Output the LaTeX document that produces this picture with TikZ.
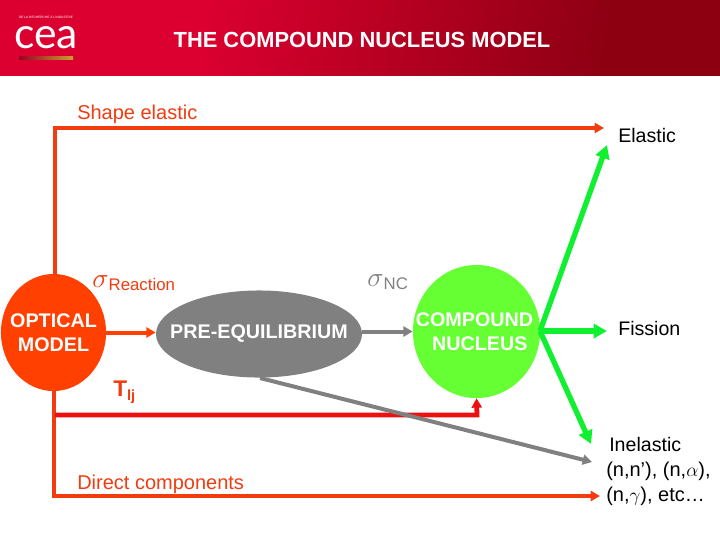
\documentclass[tikz,border=0pt]{standalone}
\usepackage{fontspec}
\setmainfont{Liberation Sans}
\newfontfamily\logofont{Lato}
\usepackage{amsmath,amssymb}
\usepackage{xcolor}
\usetikzlibrary{
  positioning,
  arrows.meta,
  shapes.geometric
}
\definecolor{headred}{HTML}{DC0030}
\definecolor{headdark}{HTML}{8C0012}
\definecolor{orangered}{HTML}{F03C10}
\definecolor{optical}{HTML}{FF4000}
\definecolor{tred}{HTML}{EE1010}
\definecolor{greyline}{HTML}{808080}
\definecolor{green}{HTML}{10F030}
\definecolor{compound}{HTML}{66FF33}
\definecolor{goldbar}{HTML}{C8A030}
\pgfdeclarehorizontalshading{headshade}{100bp}{color(0bp)=(headred); color(37bp)=(headred); color(70bp)=(headdark); color(100bp)=(headdark)}
\newcommand{\nar}[1]{\makebox[0pt]{#1}}
\begin{document}
\begin{tikzpicture}[
  x=0.75pt, y=-0.75pt,
  blob/.style={ellipse, inner sep=0pt, align=center, text=white, font=\fontsize{14.8}{18}\selectfont\bfseries},
  lab/.style={inner sep=0pt, font=\fontsize{14.7}{18}\selectfont},
  redlab/.style={lab, text=orangered, font=\fontsize{15}{18}\selectfont},
  arr/.style={-{Triangle[length=7pt, width=7.5pt]}, line width=3pt},
  grn/.style={-{Triangle[length=10pt, width=10.5pt]}, line width=4pt, green}
]
  \useasboundingbox (0,0) rectangle (720,540);
  \shade[shading=headshade, shading angle=-10] (0,0) rectangle (720,75);

  % logo
  \node[inner sep=0pt, text=white, font=\logofont\fontsize{32}{32}\selectfont, anchor=base] (logo) at (46,48) {cea};
  \node[inner sep=0pt, text=white, font=\fontsize{2.4}{3}\selectfont] (motto) at (46,17) {DE LA RECHERCHE À L'INDUSTRIE};
  \shade[left color=headred!70!black, right color=goldbar] (19,56) rectangle (73,59);

  \node[inner sep=0pt, text=white, font=\fontsize{16.4}{18}\selectfont\bfseries] (title) at (362,40) {THE COMPOUND NUCLEUS MODEL};

  \node[blob, fill=optical, minimum width=78.8pt, minimum height=87.8pt] (opt) at (53.5,332.5) {\nar{OPTICAL}\\\nar{MODEL}};
  \node[blob, fill=greyline, minimum width=154.5pt, minimum height=65.3pt] (pre) at (259,334) {\raisebox{1.5pt}{\nar{PRE-EQUILIBRIUM}}};
  \node[blob, fill=compound, minimum width=95.3pt, minimum height=99.8pt] (cn) at (476.5,331.5) {\nar{\hspace*{-3pt}COMPOUND}\\\nar{\hspace*{5pt}NUCLEUS}};

  \node[redlab, anchor=west] (shape) at (77,114) {Shape elastic};
  \node[lab, anchor=west] (elastic) at (618,135) {Elastic};
  \node[redlab, anchor=west] (direct) at (77,484) {Direct components};
  \node[lab, anchor=west] (fission) at (618,328) {Fission};
  \node[lab, anchor=west] (inel) at (609,444) {Inelastic};
  \node[lab, anchor=north west, align=left, font=\fontsize{15}{18.7}\selectfont] (chan) at (606,461.5) {(n,n'), (n,$\alpha$),\\(n,$\gamma$), etc…};
  \node[redlab, anchor=west] (sigr) at (92,283) {\fontsize{22}{22}\selectfont$\sigma$\raisebox{-2.5pt}{\fontsize{12.6}{12}\selectfont Reaction}};
  \node[lab, anchor=west, text=greyline] (sign) at (367,282) {\fontsize{22}{22}\selectfont$\sigma$\raisebox{-2.5pt}{\fontsize{12.6}{12}\selectfont NC}};
  \node[redlab, anchor=west, font=\fontsize{17}{18}\selectfont\bfseries] (tlj) at (113,392) {T\raisebox{-3pt}{\fontsize{11}{12}\selectfont lj}};

  \coordinate (elasticend) at (604,128);
  \coordinate (directend) at (600,496);
  \coordinate (greyend) at (592,462);
  \coordinate (greystart) at (260,378);
  \coordinate (redstart) at (55,415);
  \coordinate (redcorner) at (477,415);
  \coordinate (hub) at (540,331);
  \coordinate (elasticgrn) at (607,145);
  \coordinate (fissiongrn) at (607,331);
  \coordinate (inelgrn) at (591,444);

  \draw[arr, orangered] (opt.north) ++(1.5,0) |- (elasticend);
  \draw[arr, orangered] (opt.south) |- (directend);
  \draw[arr, optical] (opt.east) -- (opt.east -| pre.west);
  \draw[arr, greyline] (pre.east |- cn.west) -- (cn.west);
  \draw[arr, tred, line width=3.6pt] (redstart) -- (redcorner) -- (cn.south);
  \draw[arr, greyline] (greystart) -- (greyend);
  \draw[grn] (hub) -- (elasticgrn);
  \draw[grn] (hub) -- (fissiongrn);
  \draw[grn] (hub) -- (inelgrn);
\end{tikzpicture}
\end{document}
